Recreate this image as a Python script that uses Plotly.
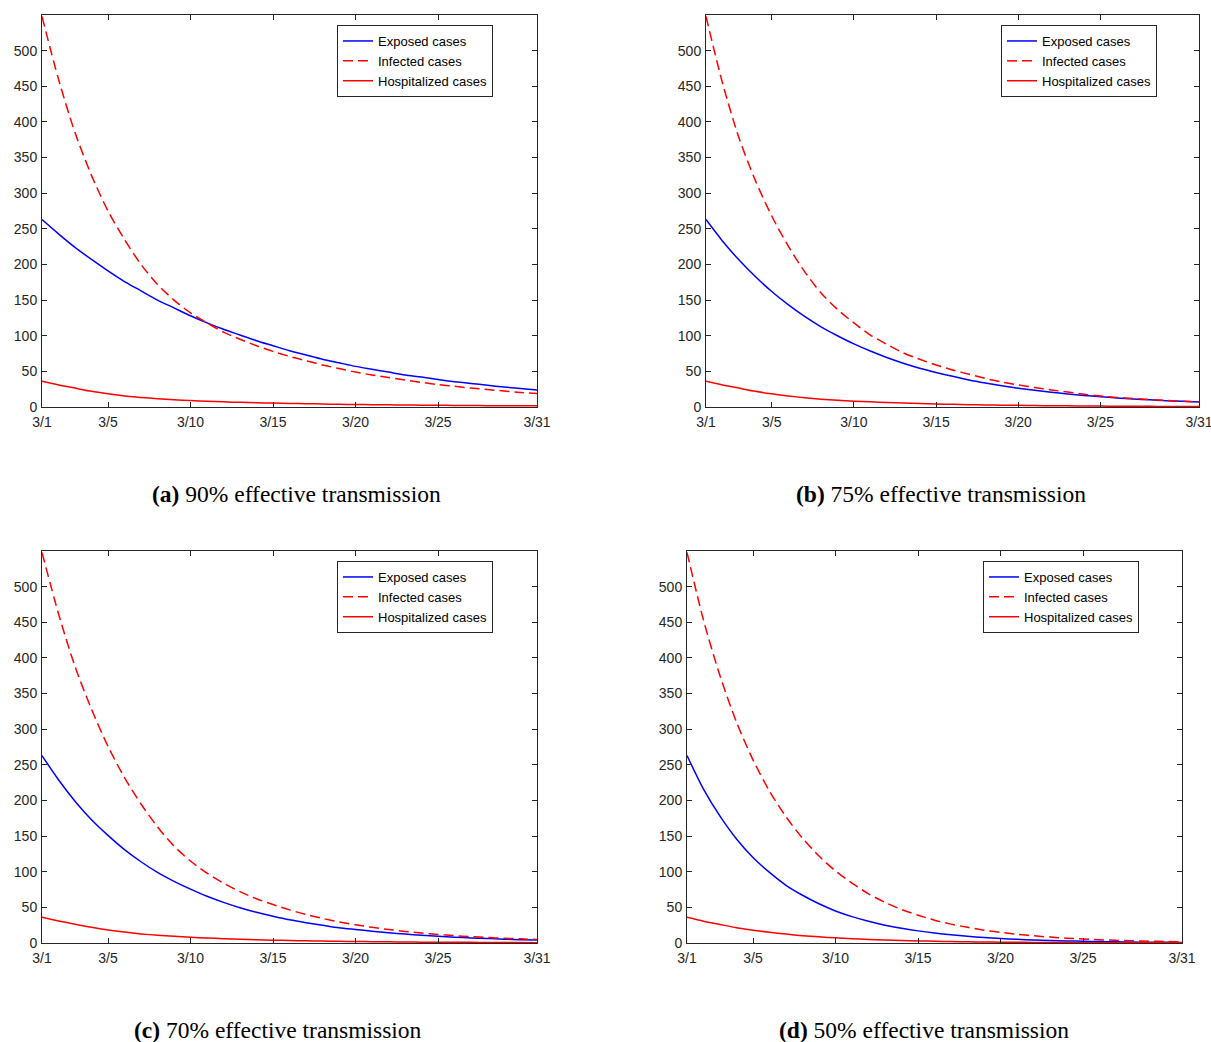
import plotly.graph_objects as go

days = list(range(1, 32))
tick_vals = [1, 5, 10, 15, 20, 25, 31]
tick_text = ["3/1", "3/5", "3/10", "3/15", "3/20", "3/25", "3/31"]
y_ticks = [0, 50, 100, 150, 200, 250, 300, 350, 400, 450, 500]

series_names = ["Exposed cases", "Infected cases", "Hospitalized cases"]

# (a) 90% effective transmission
exposed_a = [263, 243, 224, 207, 191, 176, 163, 150, 139, 128, 118, 109, 101, 93, 86, 79, 73, 67, 62, 57,
             53, 49, 45, 42, 38.5, 35.5, 33, 30.5, 28, 26, 24]
infected_a = [548, 460, 385, 325, 275, 235, 200, 172, 150, 132, 118, 105, 95, 86, 78, 71, 65, 59, 54, 49,
              45, 41.5, 38, 34.5, 31.5, 29, 26.5, 24.5, 22.5, 20.5, 19]
hosp_a = [36, 31, 26.5, 22, 18.5, 15.5, 13.5, 11.7, 10.2, 9, 8, 7.2, 6.5, 6, 5.5, 5, 4.6, 4.2, 3.8, 3.5,
          3.2, 3, 2.8, 2.6, 2.4, 2.2, 2, 1.9, 1.8, 1.7, 1.6]

# (b) 75% effective transmission
exposed_b = [263, 233, 206.5, 183, 162, 143.5, 127, 112.5, 100, 88.5, 78.5, 69.5, 61.5, 54.5, 48.5, 43, 38, 33.7,
             29.8, 26.4, 23.4, 20.7, 18.4, 16.3, 14.4, 12.8, 11.3, 10, 8.9, 7.9, 7]
infected_b = [548, 455, 378, 318, 268, 226, 190, 160, 137, 118, 101, 88, 76, 67, 59, 52, 46, 40, 35, 31,
              27.5, 24, 21, 18, 15.5, 13.5, 12, 10.5, 9.2, 8, 7]
hosp_b = [36, 31, 26.5, 22, 18.5, 15.5, 13, 11, 9.5, 8.2, 7.2, 6.3, 5.5, 4.8, 4.2, 3.7, 3.3, 2.9, 2.6, 2.3,
          2, 1.8, 1.6, 1.4, 1.3, 1.1, 1, 0.9, 0.8, 0.7, 0.6]

# (c) 70% effective transmission
exposed_c = [263, 229, 199, 173, 151, 131, 114, 99, 86.5, 75.5, 65.5, 57, 49.5, 43, 37.5, 32.5, 28.5, 25, 21.5, 19,
             16.5, 14.3, 12.5, 10.8, 9.4, 8.2, 7.1, 6.2, 5.4, 4.7, 4.1]
infected_c = [548, 462, 388, 328, 276, 232, 195, 163, 136, 115, 98, 84, 72, 62, 54, 46.5, 40, 34.5, 29.5, 25.5,
              22, 19, 16.3, 14, 12, 10.3, 8.9, 7.7, 6.7, 5.8, 5]
hosp_c = [36, 31, 26.3, 22, 18.3, 15.3, 12.8, 10.8, 9.3, 8, 7, 6.1, 5.3, 4.6, 4, 3.5, 3.1, 2.7, 2.4, 2.1,
          1.8, 1.6, 1.4, 1.2, 1.1, 1, 0.9, 0.8, 0.7, 0.6, 0.5]

# (d) 50% effective transmission
exposed_d = [263, 216, 178, 146, 120, 99, 81, 67, 55, 45, 37, 30.5, 25, 20.6, 17, 14, 11.5, 9.4, 7.7, 6.4,
             5.2, 4.3, 3.5, 2.9, 2.4, 2, 1.6, 1.3, 1.1, 0.9, 0.7]
infected_d = [548, 453, 375, 310, 257, 213, 177, 147, 122, 101, 84, 69, 57, 47, 39, 32, 26.5, 22, 18, 15,
              12.3, 10.1, 8.3, 6.8, 5.6, 4.6, 3.8, 3.1, 2.6, 2.1, 1.8]
hosp_d = [36, 30.5, 26, 21.5, 18, 15, 12.5, 10.3, 8.6, 7.2, 6, 5, 4.2, 3.5, 2.9, 2.4, 2, 1.7, 1.4, 1.2,
          1, 0.85, 0.7, 0.6, 0.5, 0.45, 0.4, 0.35, 0.3, 0.25, 0.2]

captions = [("(a)", "90% effective transmission"),
            ("(b)", "75% effective transmission"),
            ("(c)", "70% effective transmission"),
            ("(d)", "50% effective transmission")]

panels = [(exposed_a, infected_a, hosp_a),
          (exposed_b, infected_b, hosp_b),
          (exposed_c, infected_c, hosp_c),
          (exposed_d, infected_d, hosp_d)]

W, H = 1211, 1042
# plot boxes in pixels: (left, right, top, bottom)
boxes = [(42, 537, 15, 407), (706, 1199, 15, 407), (42, 537, 551, 943), (687, 1182, 551, 943)]
legend_pos = [(493, 25), (1157, 25), (493, 561), (1139, 561)]
caption_pos = [(296, 494), (941, 494), (278, 1030), (924, 1030)]

AX = "#262626"
fig = go.Figure()
layout = dict(width=W, height=H, margin=dict(l=0, r=0, t=0, b=0),
              paper_bgcolor="white", plot_bgcolor="white", annotations=[])

for i, (ex, inf, ho) in enumerate(panels):
    n = "" if i == 0 else str(i + 1)
    xa, ya = "x" + n, "y" + n
    lg = "legend" + n
    l, r, t, b = boxes[i]
    styles = [dict(color="#0000FF", width=1.5, shape="spline", smoothing=0.8),
              dict(color="#FF0000", width=1.5, dash="10px,5px", shape="spline", smoothing=0.8),
              dict(color="#FF0000", width=1.5, shape="spline", smoothing=0.8)]
    for name, vals, st in zip(series_names, (ex, inf, ho), styles):
        fig.add_trace(go.Scatter(x=days, y=vals, mode="lines", name=name, line=st,
                                 xaxis=xa, yaxis=ya, legend=lg, showlegend=True))
    layout["xaxis" + n] = dict(domain=[l / W, r / W], range=[1, 31], anchor=ya, automargin=False,
                               tickmode="array", tickvals=tick_vals, ticktext=tick_text,
                               ticks="inside", ticklen=5, tickcolor=AX, showline=True,
                               linecolor=AX, linewidth=1, mirror="ticks", showgrid=False,
                               zeroline=False, ticklabelstandoff=2, ticklabeloverflow="allow",
                               tickfont=dict(family="Liberation Sans", size=14, color=AX))
    layout["yaxis" + n] = dict(domain=[1 - b / H, 1 - t / H], range=[0, 550], anchor=xa, automargin=False,
                               tickmode="array", tickvals=y_ticks,
                               ticks="inside", ticklen=5, tickcolor=AX, showline=True,
                               linecolor=AX, linewidth=1, mirror="ticks", showgrid=False,
                               zeroline=False, ticklabelstandoff=1, ticklabeloverflow="allow",
                               tickfont=dict(family="Liberation Sans", size=14, color=AX))
    lx, ly = legend_pos[i]
    layout[lg] = dict(x=lx / W, y=1 - ly / H, xanchor="right", yanchor="top",
                      xref="paper", yref="paper",
                      bgcolor="white", bordercolor=AX, borderwidth=1,
                      font=dict(family="Liberation Sans", size=13, color="black"),
                      itemwidth=30, tracegroupgap=0)
    cx, cy = caption_pos[i]
    lab, txt = captions[i]
    layout["annotations"].append(dict(x=cx / W, y=1 - cy / H, xref="paper", yref="paper",
                                      text="<b>" + lab + "</b> " + txt, showarrow=False,
                                      xanchor="center", yanchor="middle",
                                      font=dict(family="Liberation Serif", size=23.5, color="black")))

fig.update_layout(**layout)
fig.write_html("out.html")
